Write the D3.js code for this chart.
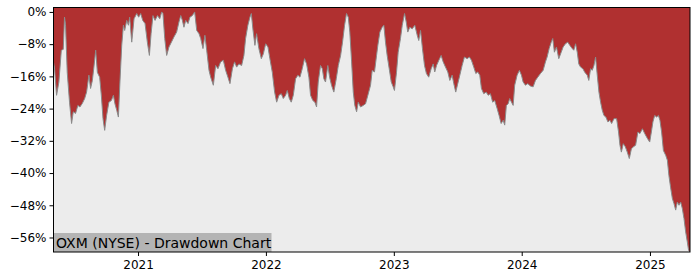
<!DOCTYPE html>
<html lang="en">
<head>
<meta charset="UTF-8">
<title>OXM drawdown</title>
<script src="https://d3js.org/d3.v7.min.js"></script>
<style>
  body { margin: 0; background: #fff; }
  svg { display: block; font-family: "DejaVu Sans", sans-serif; }
</style>
</head>
<body>
<svg id="chart" width="700" height="280"></svg>
<script>
// time as decimal year, drawdown in percent
var years = [
  2020.341, 2020.349, 2020.365, 2020.383, 2020.402, 2020.417, 2020.427, 2020.435, 2020.448, 2020.466,
  2020.482, 2020.495, 2020.513, 2020.531, 2020.547, 2020.566, 2020.584, 2020.599, 2020.617, 2020.630,
  2020.644, 2020.656, 2020.670, 2020.683, 2020.701, 2020.714, 2020.727, 2020.740, 2020.755, 2020.773,
  2020.792, 2020.808, 2020.820, 2020.834, 2020.847, 2020.859, 2020.873, 2020.886, 2020.896, 2020.912,
  2020.925, 2020.935, 2020.951, 2020.969, 2020.990, 2021.005, 2021.021, 2021.037, 2021.055, 2021.073,
  2021.089, 2021.102, 2021.117, 2021.133, 2021.152, 2021.170, 2021.185, 2021.195, 2021.209, 2021.224,
  2021.242, 2021.261, 2021.281, 2021.302, 2021.320, 2021.334, 2021.347, 2021.359, 2021.373, 2021.391,
  2021.406, 2021.425, 2021.443, 2021.459, 2021.477, 2021.490, 2021.508, 2021.523, 2021.537, 2021.555,
  2021.568, 2021.589, 2021.607, 2021.625, 2021.646, 2021.667, 2021.685, 2021.703, 2021.719, 2021.738,
  2021.755, 2021.771, 2021.789, 2021.810, 2021.828, 2021.841, 2021.859, 2021.875, 2021.886, 2021.898,
  2021.914, 2021.927, 2021.945, 2021.964, 2021.980, 2021.998, 2022.016, 2022.031, 2022.050, 2022.068,
  2022.084, 2022.102, 2022.120, 2022.136, 2022.154, 2022.167, 2022.183, 2022.198, 2022.214, 2022.232,
  2022.250, 2022.266, 2022.284, 2022.302, 2022.318, 2022.336, 2022.349, 2022.367, 2022.383, 2022.396,
  2022.409, 2022.427, 2022.441, 2022.453, 2022.466, 2022.484, 2022.498, 2022.513, 2022.531, 2022.550,
  2022.566, 2022.584, 2022.599, 2022.615, 2022.630, 2022.644, 2022.656, 2022.670, 2022.683, 2022.695,
  2022.709, 2022.722, 2022.740, 2022.761, 2022.779, 2022.797, 2022.818, 2022.831, 2022.849, 2022.865,
  2022.875, 2022.891, 2022.909, 2022.922, 2022.935, 2022.948, 2022.964, 2022.980, 2022.995, 2023.005,
  2023.021, 2023.034, 2023.052, 2023.066, 2023.084, 2023.097, 2023.109, 2023.125, 2023.144, 2023.164,
  2023.183, 2023.195, 2023.209, 2023.224, 2023.240, 2023.255, 2023.273, 2023.292, 2023.308, 2023.320,
  2023.334, 2023.352, 2023.370, 2023.386, 2023.404, 2023.422, 2023.438, 2023.456, 2023.469, 2023.484,
  2023.500, 2023.516, 2023.534, 2023.552, 2023.573, 2023.591, 2023.607, 2023.625, 2023.641, 2023.656,
  2023.672, 2023.685, 2023.703, 2023.722, 2023.738, 2023.755, 2023.773, 2023.789, 2023.808, 2023.823,
  2023.839, 2023.855, 2023.867, 2023.880, 2023.894, 2023.906, 2023.920, 2023.933, 2023.945, 2023.964,
  2023.982, 2023.998, 2024.011, 2024.029, 2024.047, 2024.068, 2024.089, 2024.107, 2024.125, 2024.146,
  2024.167, 2024.185, 2024.198, 2024.214, 2024.230, 2024.242, 2024.255, 2024.271, 2024.289, 2024.308,
  2024.323, 2024.341, 2024.359, 2024.375, 2024.394, 2024.406, 2024.420, 2024.433, 2024.445, 2024.459,
  2024.477, 2024.492, 2024.511, 2024.523, 2024.537, 2024.550, 2024.563, 2024.576, 2024.589, 2024.602,
  2024.615, 2024.628, 2024.641, 2024.656, 2024.672, 2024.688, 2024.701, 2024.719, 2024.740, 2024.755,
  2024.766, 2024.777, 2024.792, 2024.808, 2024.823, 2024.839, 2024.855, 2024.870, 2024.888, 2024.906,
  2024.922, 2024.941, 2024.959, 2024.980, 2024.998, 2025.011, 2025.023, 2025.037, 2025.052, 2025.066,
  2025.078, 2025.091, 2025.105, 2025.123, 2025.136, 2025.148, 2025.161, 2025.175, 2025.188, 2025.201,
  2025.214, 2025.227, 2025.240, 2025.253, 2025.266, 2025.279, 2025.292, 2025.302, 2025.313
];
var drawdown = [
  -12.5, -14, -20.7, -17.4, -9.5, -9.3, -1.3, -3.3, -15, -22.4,
  -27.7, -24.8, -25.2, -23.2, -23.6, -22.7, -21.5, -19.9, -15.7, -19,
  -17, -13.7, -9.5, -15, -16.2, -20.7, -26.5, -29.4, -25.7, -22.4,
  -22, -20.7, -22.8, -24.4, -26.1, -17.4, -8.3, -3.3, -4.6, -2.1,
  -3.3, -1.3, -7.5, -1.7, -0.4, -1.3, -0.4, -2.1, -2.9, -7.5,
  -10.8, -5.4, -0.9, -2.1, -0.9, -1.7, 0, -0.4, -6.6, -10.8,
  -8.7, -7.5, -6.2, -5, -2.5, -0.9, -2.1, -3.8, -2.1, -2.9,
  -1.3, -0.9, 0, -4.6, -5.4, -6.6, -9.1, -5.8, -9.5, -14.5,
  -16.2, -18.2, -13.3, -14.1, -12.4, -12, -14.5, -16.2, -17.8, -14.1,
  -12.4, -13.7, -12.9, -13.3, -10.8, -6.6, -3.3, -1.3, -0.4, -4.2,
  -8.3, -5.4, -9.1, -11.6, -10.4, -7.9, -8.7, -11.6, -15, -19.9,
  -22.4, -20.7, -20.3, -21.5, -20.7, -19.5, -21.5, -22.4, -20.7, -16.6,
  -15.7, -16.2, -14.1, -11.6, -12.9, -16.2, -20.7, -22, -22.4, -23.6,
  -17.4, -13.3, -14.1, -16.6, -17.4, -13.3, -16.2, -18.2, -19.9, -16.6,
  -13.3, -10.8, -7.5, -3.3, -0.4, -1.3, -5, -12.4, -19.9, -23.2,
  -24.8, -22.4, -23.6, -23.2, -22.8, -20.7, -18.2, -14.5, -14.9, -10.8,
  -8.3, -5, -3.8, -3.3, -7.5, -10.8, -14.1, -17.4, -18.6, -19.5,
  -15, -10, -6.6, -3.3, -0.4, -2.5, -5, -3.8, -4.2, -3.3,
  -5.8, -7.1, -4.6, -9.1, -13.3, -15.3, -16.2, -14.1, -12.9, -14.9,
  -13.3, -12, -10.8, -12.4, -13.7, -14.9, -17, -15.7, -17.8, -19.9,
  -17.8, -15.7, -13.3, -11.2, -11.6, -11.2, -12, -13.7, -15.3, -14.9,
  -15.7, -19, -20.3, -19.9, -20.7, -20.3, -22.4, -22, -24, -25.7,
  -27.7, -26.9, -28.1, -23.2, -22.8, -21.5, -22.4, -23.2, -18.2, -15.7,
  -14.5, -15.7, -17.4, -18.2, -17.8, -18.4, -18.6, -17, -16.2, -15.3,
  -14.5, -12.4, -11.2, -9.1, -7.5, -6.6, -10, -8.7, -11.6, -10,
  -8.7, -7.9, -7.5, -8.3, -9.1, -9.5, -7.9, -10, -12.9, -13.7,
  -14.1, -15, -15.7, -17, -14.1, -14.5, -13.3, -11.2, -15.7, -19.9,
  -22.4, -24.4, -25.7, -26.1, -27.3, -26.9, -27.7, -26.5, -26.5, -29.8,
  -33.1, -34.8, -32.7, -33.5, -34.8, -36.4, -34, -33.5, -33.1, -29.8,
  -30.2, -29, -30.2, -31.4, -32.3, -29.8, -27.3, -25.7, -26.1, -25.7,
  -26.9, -29.8, -34.4, -35.6, -36.8, -40.6, -43.5, -46.3, -47.6, -49.2,
  -47.2, -48, -47.2, -48.8, -51.3, -54.6, -57.1, -59.2, -59.5
];
var yTicks = [0, -8, -16, -24, -32, -40, -48, -56];
var title = "OXM (NYSE) - Drawdown Chart";

var width = 700, height = 280
var margin = {top: 7.5, right: 10, bottom: 28, left: 53.5}

function toDate(t) {
  var yr = Math.floor(t)
  var s = Date.UTC(yr, 0, 1), e = Date.UTC(yr + 1, 0, 1)
  return new Date(s + (t - yr) * (e - s))
}

var data = years.map((t, i) => ({date: toDate(t), dd: drawdown[i]}))

var svg = d3.select("#chart")

var x = d3.scaleUtc()
  .domain(d3.extent(data, d => d.date))
  .range([margin.left, width - margin.right])
var y = d3.scaleLinear()
  .domain([-59.6, 1.1])
  .range([height - margin.bottom, margin.top])

// plot background
svg.append("rect")
  .attr("x", margin.left).attr("y", margin.top)
  .attr("width", width - margin.left - margin.right)
  .attr("height", height - margin.top - margin.bottom)
  .attr("fill", "#ececec")

// red fills from the curve up to the top of the plot
var area = d3.area()
  .x(d => x(d.date))
  .y0(margin.top)
  .y1(d => y(d.dd))

svg.append("path")
  .datum(data)
  .attr("fill", "#b03030")
  .attr("d", area)

svg.append("path")
  .datum(data)
  .attr("fill", "none")
  .attr("stroke", "#8a8a8a")
  .attr("stroke-width", 1)
  .attr("d", d3.line().x(d => x(d.date)).y(d => y(d.dd)))

// title box bottom-left
var label = svg.append("g")
label.append("rect")
  .attr("x", margin.left).attr("y", 233)
  .attr("width", 218).attr("height", height - margin.bottom - 233)
  .attr("fill", "#b4b4b4")
label.append("text")
  .attr("x", margin.left + 2.5).attr("y", 247.5)
  .attr("font-size", "14px")
  .attr("fill", "#000")
  .text(title)

// frame
svg.append("rect")
  .attr("x", margin.left).attr("y", margin.top)
  .attr("width", width - margin.left - margin.right)
  .attr("height", height - margin.top - margin.bottom)
  .attr("fill", "none")
  .attr("stroke", "#000")
  .attr("stroke-width", 1)

var xAxis = svg.append("g")
  .attr("transform", `translate(0,${height - margin.bottom})`)
  .call(d3.axisBottom(x).ticks(d3.utcYear.every(1)).tickFormat(d3.utcFormat("%Y")).tickSize(4).tickPadding(4))
var yAxis = svg.append("g")
  .attr("transform", `translate(${margin.left},0)`)
  .call(d3.axisLeft(y).tickValues(yTicks).tickFormat(d => (d < 0 ? "\u2212" + (-d) : d) + "%").tickSize(4).tickPadding(3))

svg.selectAll(".domain").remove()
svg.selectAll(".tick text").attr("font-size", "12px").attr("fill", "#000").attr("font-family", "DejaVu Sans, sans-serif")
svg.selectAll(".tick line").attr("stroke", "#000")
</script>
</body>
</html>
